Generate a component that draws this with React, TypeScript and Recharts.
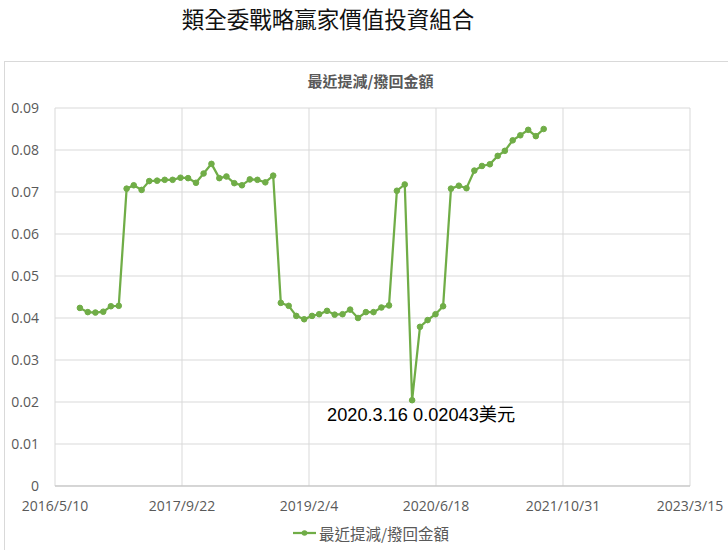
import React from 'react';
import { LineChart, Line, XAxis, YAxis, CartesianGrid, ReferenceDot } from 'recharts';

const CHART_TITLE = '類全委戰略贏家價值投資組合';
const SERIES_NAME = '最近提減/撥回金額';
const NOTE_TEXT = '2020.3.16 0.02043美元';

// monthly data, 16th of each month from 2016/8 to 2021/8
const START_MONTH = { year: 2016, month: 8, day: 16 };
const values = [
  0.0424, 0.0414, 0.0413, 0.0415, 0.0428, 0.0429,
  0.0708, 0.0716, 0.0705, 0.0726, 0.0727, 0.0729, 0.0729, 0.0734, 0.0733, 0.0722,
  0.0744, 0.0767, 0.0733, 0.0737, 0.0721, 0.0716, 0.0730, 0.0729, 0.0723, 0.0739,
  0.0436, 0.0429, 0.0405, 0.0397, 0.0405, 0.0409, 0.0417, 0.0408, 0.0409, 0.0420,
  0.0400, 0.0414, 0.0414, 0.0425, 0.0430,
  0.0703, 0.0718, 0.02043,
  0.0379, 0.0395, 0.0409, 0.0428,
  0.0708, 0.0715, 0.0709, 0.0751, 0.0762, 0.0766, 0.0786, 0.0798, 0.0823, 0.0835,
  0.0848, 0.0833, 0.0850,
];

const xTickLabels = ['2016/5/10', '2017/9/22', '2019/2/4', '2020/6/18', '2021/10/31', '2023/3/15'];
const yTicks = [0, 0.01, 0.02, 0.03, 0.04, 0.05, 0.06, 0.07, 0.08, 0.09];

const NOTE_DATE = '2020/3/16';
const NOTE_VALUE = 0.02043;

const GREEN = '#70AD47';
const GRID = '#d9d9d9';
const LABEL = '#595959';

const toDays = (s: string) => {
  const [y, m, d] = s.split('/').map(Number);
  return Date.UTC(y, m - 1, d) / 86400000;
};
const BASE = toDays(xTickLabels[0]);
const xTicks = xTickLabels.map(l => toDays(l) - BASE);

const data = values.map((v, i) => {
  const dt = new Date(Date.UTC(START_MONTH.year, START_MONTH.month - 1 + i, START_MONTH.day));
  const label = `${dt.getUTCFullYear()}/${dt.getUTCMonth() + 1}/${dt.getUTCDate()}`;
  return { date: label, x: toDays(label) - BASE, value: v };
});

const tickFont = { fontFamily: '"Open Sans", sans-serif', fontSize: 14, fill: LABEL };

export default function App() {
  return (
    <div style={{ position: 'absolute', left: 0, top: 0, width: 728, height: 550, background: '#fff', overflow: 'hidden' }}>
      <div style={{ position: 'absolute', left: 0, top: 4, width: 656, textAlign: 'center', fontFamily: '"Noto Sans CJK TC", sans-serif', fontSize: 22.5, color: '#111', lineHeight: '28px' }}>
        {CHART_TITLE}
      </div>
      <div style={{ position: 'absolute', left: 4, top: 61, width: 760, height: 520, border: `1px solid ${GRID}` }} />
      <div style={{ position: 'absolute', left: 0, top: 71, width: 741, textAlign: 'center', fontFamily: '"Noto Sans CJK TC", sans-serif', fontSize: 15, fontWeight: 700, color: LABEL, lineHeight: '20px' }}>
        {SERIES_NAME}
      </div>
      <div style={{ position: 'absolute', left: 0, top: 0 }}>
        <LineChart width={728} height={550} data={data} margin={{ top: 108, right: 38, bottom: 34, left: 10 }}>
          <CartesianGrid stroke={GRID} strokeWidth={1} />
          <XAxis
            dataKey="x"
            type="number"
            domain={[xTicks[0], xTicks[xTicks.length - 1]]}
            ticks={xTicks}
            tickFormatter={(v: number) => xTickLabels[xTicks.indexOf(v)] ?? ''}
            interval={0}
            height={30}
            axisLine={{ stroke: '#bfbfbf' }}
            tickLine={false}
            tickSize={0}
            tickMargin={15}
            tick={tickFont}
          />
          <YAxis
            type="number"
            domain={[0, 0.09]}
            ticks={yTicks}
            interval={0}
            width={45}
            axisLine={false}
            tickLine={false}
            tickSize={0}
            tickMargin={16}
            tick={tickFont}
          />
          <Line
            type="linear"
            dataKey="value"
            name={SERIES_NAME}
            stroke={GREEN}
            strokeWidth={2.25}
            dot={{ r: 2.8, fill: GREEN, stroke: GREEN, strokeWidth: 1 }}
            isAnimationActive={false}
          />
          <ReferenceDot
            x={toDays(NOTE_DATE) - BASE}
            y={NOTE_VALUE}
            r={0}
            shape={(p: any) => (
              <text
                x={p.cx + 9}
                y={p.cy + 21}
                textAnchor="middle"
                fontFamily='"Liberation Sans", "Noto Sans CJK TC", sans-serif'
                fontSize={18.2}
                fill="#000"
              >
                {NOTE_TEXT}
              </text>
            )}
          />
        </LineChart>
      </div>
      <div style={{ position: 'absolute', left: 293, top: 522, display: 'flex', alignItems: 'center', height: 22 }}>
        <svg width={24} height={22}>
          <line x1={0} y1={11} x2={23} y2={11} stroke={GREEN} strokeWidth={2.25} />
          <circle cx={11.5} cy={11} r={2.8} fill={GREEN} />
        </svg>
        <span style={{ fontFamily: '"Noto Sans CJK TC", sans-serif', fontSize: 15.5, color: LABEL, marginLeft: 2 }}>{SERIES_NAME}</span>
      </div>
    </div>
  );
}
